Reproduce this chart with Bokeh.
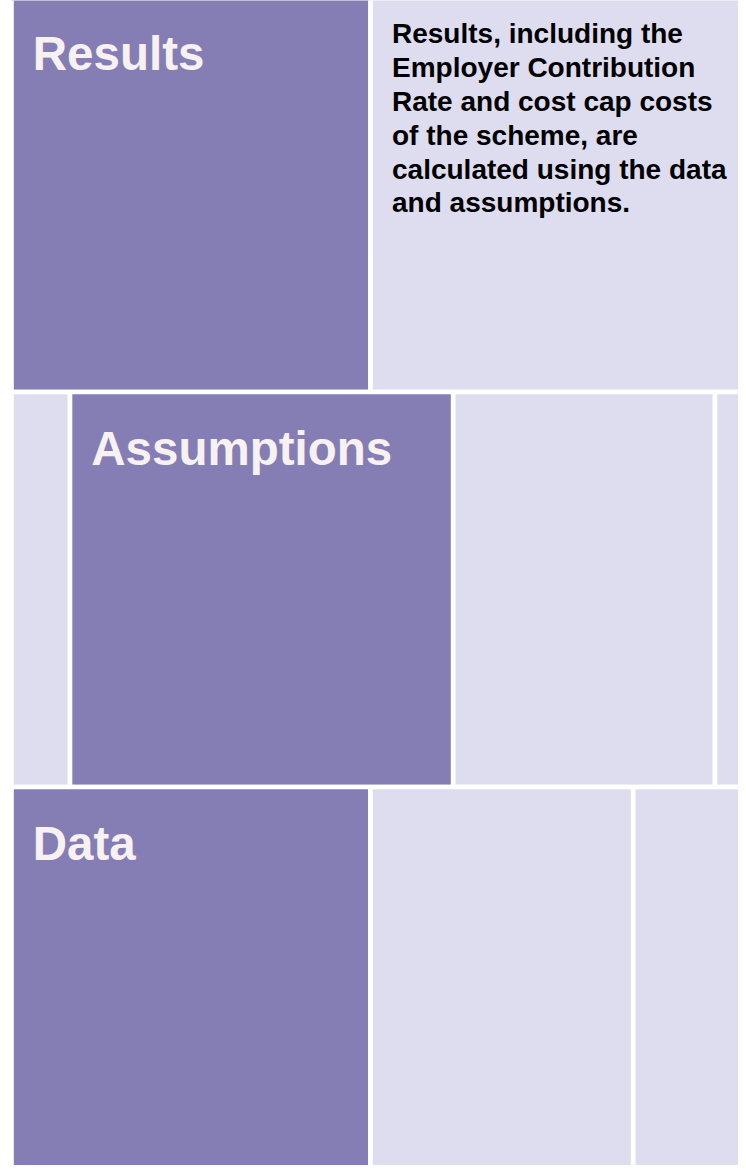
from bokeh.plotting import figure
from bokeh.models import ColumnDataSource, Range1d
from bokeh.core.properties import value
from bokeh.embed import file_html
from bokeh.resources import INLINE

# ---- data -----------------------------------------------------------------
row_names = ["Results", "Assumptions", "Data"]
# tile widths along each row (left to right) and their kind
results_tiles = [359, 375]
results_kinds = ["main", "detail"]
assumptions_tiles = [58.5, 383.2, 261.8, 30.5]
assumptions_kinds = ["detail", "main", "detail", "detail"]
data_tiles = [359, 262.7, 112.3]
data_kinds = ["main", "detail", "detail"]
row_height = 395
description_lines = [
    "Results, including the",
    "Employer Contribution",
    "Rate and cost cap costs",
    "of the scheme, are",
    "calculated using the data",
    "and assumptions.",
]

# ---- styling / layout -------------------------------------------------------
MAIN = "#857EB5"
DETAIL = "#DEDCEF"
TITLE_COLOR = "#F8F1F1"
X0, Y0 = 11.0, -3.5
GAP = 4.6

rows = [(results_tiles, results_kinds), (assumptions_tiles, assumptions_kinds),
        (data_tiles, data_kinds)]

left, right, top, bottom, color = [], [], [], [], []
title_x, title_y = [], []
desc_x0 = None
for r, (widths, kinds) in enumerate(rows):
    t = Y0 + r * row_height
    x = X0
    for w, k in zip(widths, kinds):
        left.append(x)
        right.append(x + w)
        top.append(t)
        bottom.append(t + row_height)
        color.append(MAIN if k == "main" else DETAIL)
        if k == "main":
            title_x.append(x + 21.3)
            title_y.append(t + 56.5)
        elif r == 0 and desc_x0 is None:
            desc_x0 = x + 21.5
        x += w

tiles = ColumnDataSource(dict(left=left, right=right, top=top, bottom=bottom, color=color))
titles = ColumnDataSource(dict(x=title_x, y=title_y, text=row_names))
desc = ColumnDataSource(dict(
    x=[desc_x0] * len(description_lines),
    y=[Y0 + 36.8 + i * 33.8 for i in range(len(description_lines))],
    text=description_lines,
))

p = figure(width=738, height=1165, output_backend="svg", toolbar_location=None,
           x_range=Range1d(0, 738), y_range=Range1d(1165, 0),
           x_axis_type=None, y_axis_type=None, min_border=0,
           background_fill_color="white", border_fill_color="white")
p.outline_line_color = None
p.grid.visible = False

p.quad(left="left", right="right", top="top", bottom="bottom", source=tiles,
       fill_color="color", line_color="white", line_width=GAP)

p.text(x="x", y="y", text="text", source=titles,
       text_font=value("Liberation Sans"), text_font_style="bold",
       text_font_size=value("47.5px"), text_color=TITLE_COLOR,
       text_align="left", text_baseline="alphabetic")

p.text(x="x", y="y", text="text", source=desc,
       text_font=value("Liberation Sans"), text_font_style="bold",
       text_font_size=value("28px"), text_color="#000000",
       text_align="left", text_baseline="alphabetic")

open("out.html", "w").write(file_html(p, INLINE))
